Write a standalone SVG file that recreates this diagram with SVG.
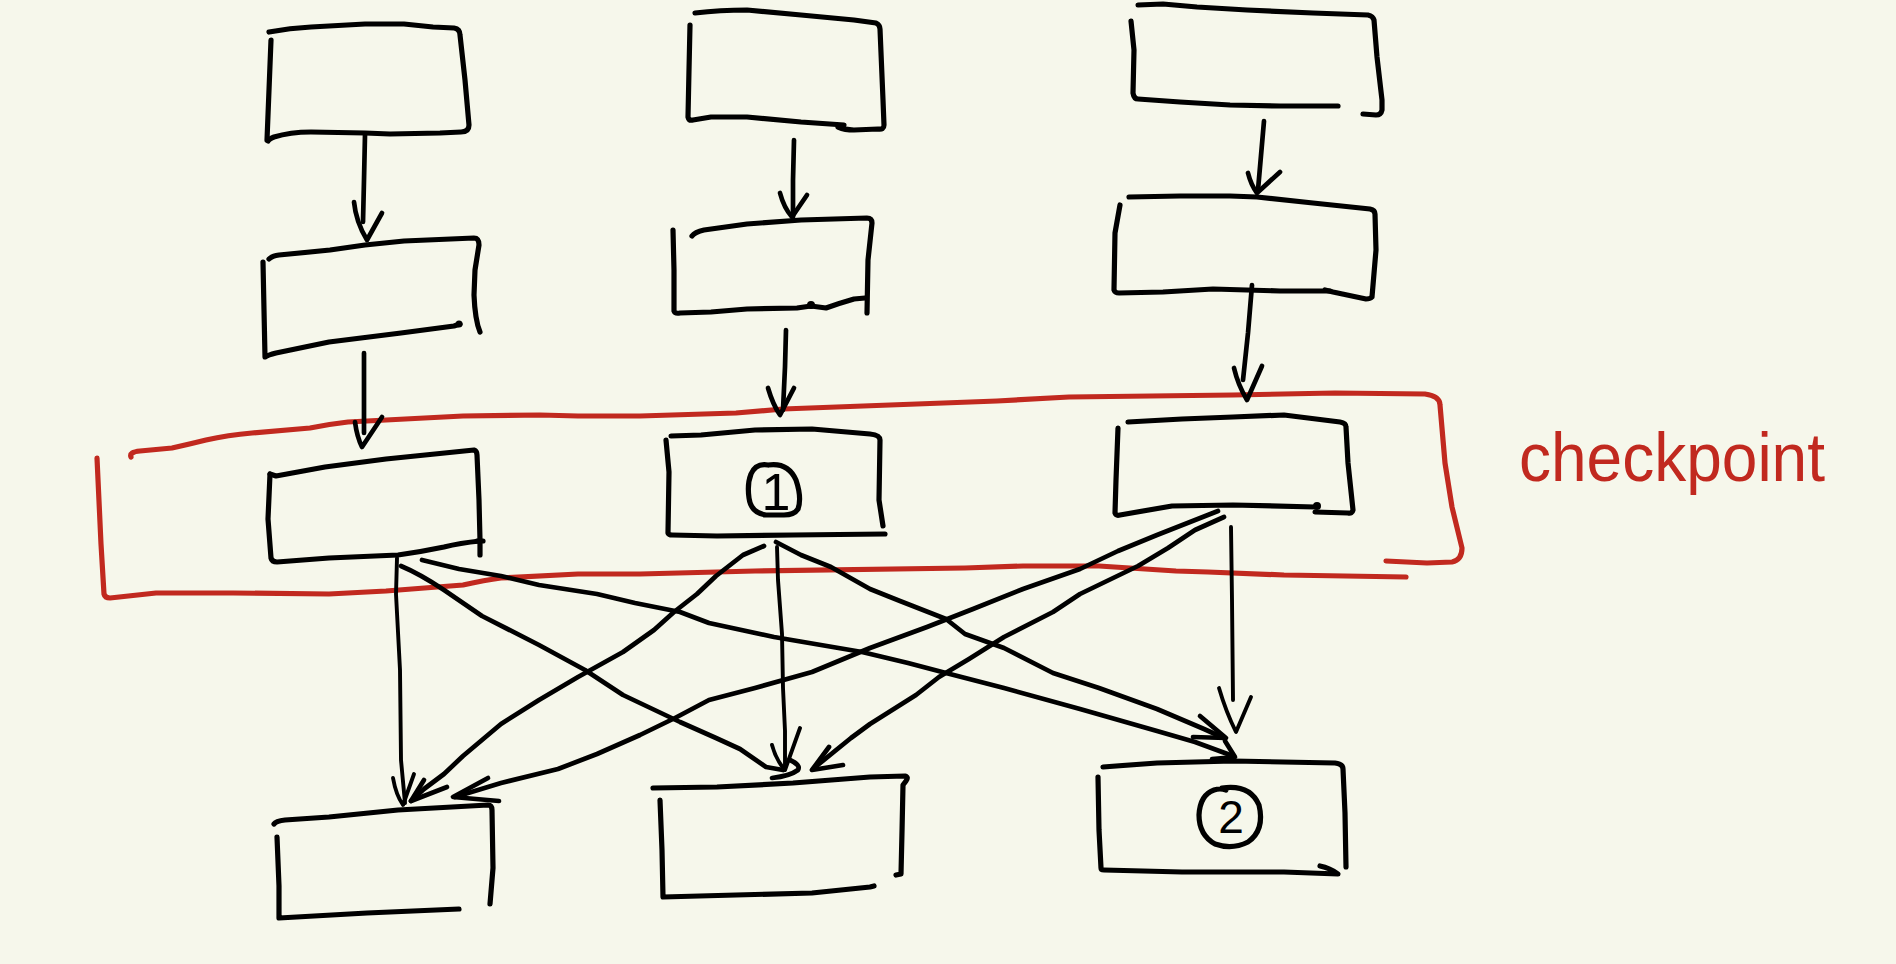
<svg xmlns="http://www.w3.org/2000/svg" width="1896" height="964" viewBox="0 0 1896 964">
<style>
.bg{fill:#f6f7eb}
.box{fill:none;stroke:#000;stroke-width:5.2;stroke-linecap:round;stroke-linejoin:round}
.edge{fill:none;stroke:#000;stroke-width:4.7;stroke-linecap:round;stroke-linejoin:round}
.thin{stroke-width:3.9}
.dot{fill:#000}
.red{fill:none;stroke:#c1291f;stroke-width:5.2;stroke-linecap:round;stroke-linejoin:round}
.num{font-family:"Liberation Sans",Arial,sans-serif;fill:#000;text-anchor:middle}
.ck{font-family:"Liberation Sans",Arial,sans-serif;fill:#c1291f;font-size:68px}
</style>
<rect class="bg" x="0" y="0" width="1896" height="964"/>

<g id="checkpoint">
<path class="red" d="M131,457 Q129,452 140,451 L172,448 Q190,444 206,440 Q228,435 252,433 L310,428 Q330,424 348,422 L386,420 L463,416 L540,415 L578,416 L640,416 L736,413 L783,409 L997,401 L1069,397 L1233,395 L1335,393 L1425,394 Q1440,396 1440,405 L1445,463 L1452,507 L1462,548 Q1462,560 1452,562 L1427,563 L1386,561"/>
<path class="red" d="M97,458 L101,544 L104,594 Q105,598 110,598 L156,593 L233,593 L329,594 L386,591 L463,585 Q485,580 501,578 L578,574 L640,574 L755,571 L965,568 L1023,566 L1099,566 L1176,571 L1208,572 L1284,575 L1406,577"/>
<text class="ck" x="1519" y="481" textLength="306" lengthAdjust="spacingAndGlyphs">checkpoint</text>
</g>

<g id="A1">
<path class="box" d="M269,32 Q290,28 311,27 L365,24 L404,24 L433,27 L454,28 Q460,29 460,35 L465,80 L469,125 Q469,132 461,132 L440,133 L390,134 L365,133 L311,132 Q290,132 274,137 Q269,139 268,141"/>
<path class="box" d="M271,40 L269,90 L267,140"/>
</g>
<g id="A2">
<path class="box" d="M269,259 Q272,256 279,255 L330,250 L365,245 L404,241 L474,238 Q479,238 479,245 L475,270 L474,295 Q475,320 480,332"/>
<path class="box" d="M263,262 L264,310 L265,357 Q268,355 276,353 L329,342 L401,333 L454,326 L460,324"/>
<circle class="dot" cx="459" cy="324" r="3.5"/>
</g>
<g id="A3">
<path class="box" d="M270,474 L276,476 L325,467 L386,459 L474,450 Q477,451 477,455 L479,500 L480,540 L480,555"/>
<path class="box" d="M477,541 L483,541"/>
<path class="box" d="M270,474 L268,519 L271,558 Q272,562 277,562 L329,558 L398,555 Q420,552 444,547 Q460,543 480,541"/>
</g>
<g id="A4">
<path class="box" d="M274,824 Q276,821 285,820 L329,817 L398,810 L488,805 Q492,805 492,810 L493,868 L490,904"/>
<path class="box" d="M277,837 L279,886 L279,918 L367,913 L459,909"/>
</g>

<g id="B1">
<path class="box" d="M695,13 Q720,10 747,10 L801,15 L854,20 L876,23 Q880,25 880,29 L883,100 L884,125 Q884,130 878,129 L854,130 Q845,130 838,127"/>
<path class="box" d="M690,25 L689,70 L688,117 Q689,121 693,120 L711,117 L747,117 L801,122 L844,125"/>
</g>
<g id="B2">
<path class="box" d="M692,236 Q695,232 704,230 L747,224 L801,220 L867,218 Q872,218 872,223 L868,260 L867,313"/>
<path class="box" d="M673,230 L674,270 L674,311 Q675,314 680,313 L711,312 L747,309 L797,308 L811,306 L826,308 Q840,303 854,299 L865,298"/>
<circle class="dot" cx="811" cy="305" r="4"/>
</g>
<g id="B3">
<path class="box" d="M671,436 L701,435 L755,430 L812,429 L870,434 Q880,435 880,440 L879,500 L883,526"/>
<path class="box" d="M666,440 L669,472 L668,533 Q669,535 672,535 L717,536 L793,535 L885,534"/>
<path class="box" d="M768,465 Q788,462 796,480 Q802,498 798,509 Q794,515 784,515 L766,515 Q751,513 749,498 Q747,484 751,474 Q756,463 768,465"/>
<text class="num" x="776" y="510" font-size="52">1</text>
</g>
<g id="B4">
<path class="box" d="M653,788 L717,787 L793,783 L870,777 L905,776 Q909,777 906,781 L903,785 L902,832 L901,874 L896,875"/>
<path class="box" d="M660,800 L662,850 L663,897 L736,895 L812,893 L870,887 L874,886"/>
</g>

<g id="C1">
<path class="box" d="M1138,5 L1163,4 L1197,7 L1247,10 L1313,13 L1368,15 Q1373,16 1374,20 L1377,57 L1382,100 L1382,110 Q1381,115 1376,115 L1363,114"/>
<path class="box" d="M1131,21 L1134,50 L1133,93 Q1134,99 1138,99 L1180,102 L1230,105 L1280,106 L1338,106"/>
</g>
<g id="C2">
<path class="box" d="M1129,197 L1180,196 L1230,196 L1257,197 L1313,203 L1370,209 Q1375,210 1375,214 L1376,250 L1372,297 Q1370,299 1366,299 L1333,292 L1325,290"/>
<path class="box" d="M1120,205 L1115,233 L1114,290 Q1115,293 1119,293 L1163,292 L1213,289 L1280,291 L1330,291"/>
</g>
<g id="C3">
<path class="box" d="M1128,422 L1182,419 L1233,417 L1284,415 L1340,422 Q1346,423 1346,427 L1348,463 L1353,510 Q1352,514 1348,513 L1315,512"/>
<path class="box" d="M1118,428 L1116,480 L1115,513 Q1116,516 1120,515 L1172,506 L1233,505 L1315,507"/>
<circle class="dot" cx="1317" cy="506" r="4"/>
</g>
<g id="C4">
<path class="box" d="M1103,767 L1157,763 L1233,761 L1335,763 Q1343,764 1343,769 L1345,813 L1346,867"/>
<path class="box" d="M1098,777 L1099,830 L1101,868 Q1101,870 1104,870 L1182,872 L1284,872 L1338,874 Q1330,868 1320,866"/>
<path class="box" d="M1222,788 Q1250,784 1259,805 Q1265,830 1248,842 Q1232,850 1215,844 Q1199,835 1199,815 Q1200,795 1214,790 Q1220,788 1226,790"/>
<text class="num" x="1231" y="833" font-size="46">2</text>
</g>

<g id="connectors">
<path class="edge" d="M365,135 L364,180 L363,222"/>
<path class="edge" d="M354,202 Q356,222 367,240 L382,213"/>
<path class="edge" d="M364,353 L364,395 L364,433"/>
<path class="edge" d="M355,422 Q357,437 362,447 L382,417"/>
<path class="edge" d="M794,140 L793,180 L793,217"/>
<path class="edge" d="M780,193 Q784,208 792,217 L807,195"/>
<path class="edge" d="M786,330 L785,367 L783,410"/>
<path class="edge" d="M768,388 Q773,405 780,415 L794,388"/>
<path class="edge" d="M1264,121 L1260,167 L1258,190"/>
<path class="edge" d="M1248,173 Q1251,185 1257,193 L1280,172"/>
<path class="edge" d="M1252,285 L1248,333 L1243,380"/>
<path class="edge" d="M1234,368 Q1238,385 1247,400 L1262,366"/>

<path class="edge thin" d="M397,558 L396,594 L400,670 L401,760 L405,803"/>
<path class="edge thin" d="M393,778 Q396,795 403,805 L414,774"/>
<path class="edge thin" d="M777,547 L778,580 L782,634 L783,688 L785,731 L785,768"/>
<path class="edge thin" d="M772,745 Q776,760 785,770 L800,728"/>
<path class="edge thin" d="M1231,527 L1232,600 L1233,700"/>
<path class="edge thin" d="M1219,688 Q1226,712 1236,732 L1251,697"/>

<path class="edge" d="M401,566 Q420,574 444,590 L482,616 L539,645 L585,670 L623,695 L680,722 L716,738 L740,749 L766,767 L783,770"/>
<path class="edge" d="M790,760 Q801,765 798,770 Q790,776 772,778"/>
<path class="edge" d="M422,560 L459,569 L501,576 L539,585 L597,594 L635,603 L680,612 L709,623 L774,637 L862,652 L908,663 L946,673 L1004,688 L1080,709 L1157,731 L1195,742 L1233,756"/>
<path class="edge" d="M1225,741 L1235,757 L1212,759"/>
<path class="edge" d="M776,542 L801,555 L831,567 L870,589 L900,601 L946,619 L965,634 L1004,648 L1053,673 L1099,688 L1157,709 L1204,729 L1224,738"/>
<path class="edge" d="M1200,716 L1226,738 L1193,737"/>
<path class="edge" d="M764,546 L743,555 L716,576 L697,594 L674,612 L654,630 L623,652 L578,677 L539,700 L501,724 L463,756 L444,774 L424,789 L411,801"/>
<path class="edge" d="M424,780 L411,801 L447,787"/>
<path class="edge" d="M1218,511 L1157,535 L1118,551 L1080,569 L1023,589 L973,609 L927,627 L870,648 L812,672 L755,688 L709,700 L675,718 L640,735 L597,754 L558,769 L501,783 L455,797"/>
<path class="edge" d="M488,778 L453,797 L499,801"/>
<path class="edge" d="M1224,517 L1195,530 L1168,548 L1138,566 L1080,594 L1053,612 L1004,637 L969,659 L939,677 L916,695 L870,724 L851,738 L814,768"/>
<path class="edge" d="M829,747 L812,770 L843,765"/>
</g>
</svg>
